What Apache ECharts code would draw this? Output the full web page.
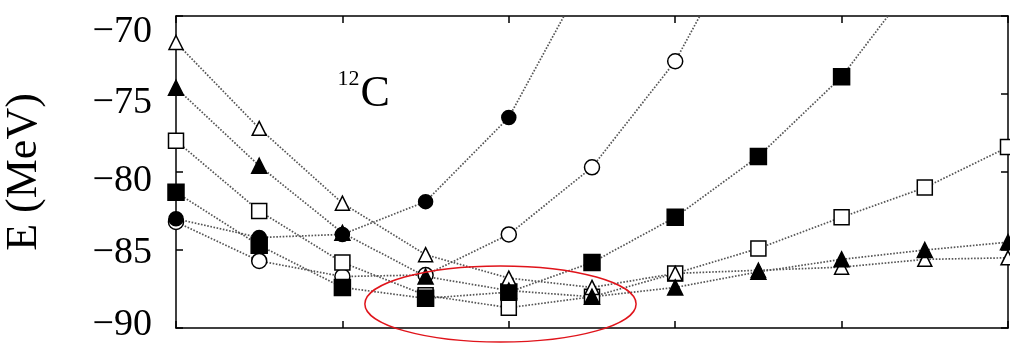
<!DOCTYPE html>
<html>
<head>
<meta charset="utf-8">
<script src="https://cdn.jsdelivr.net/npm/echarts@6/dist/echarts.min.js"></script>
<style>
  html, body { margin: 0; padding: 0; background: #fff; }
  #chart { width: 1010px; height: 344px; }
</style>
</head>
<body>
<div id="chart"></div>
<script>
// Deformation parameter grid (x) and total energies E (MeV) of 12C for six configurations
const xValues = [0, 0.5, 1, 1.5, 2, 2.5, 3, 3.5, 4, 4.5, 5];
const openTriangle   = [-71.7, -77.2, -82.0, -85.3, -86.8, -87.4, -86.5, -86.3, -86.1, -85.6, -85.5];
const filledTriangle = [-74.6, -79.6, -83.9, -86.7, -87.6, -88.0, -87.4, -86.4, -85.6, -85.0, -84.5];
const openSquare     = [-78.0, -82.5, -85.8, -87.9, -88.7, -88.0, -86.5, -84.9, -82.9, -81.0, -78.4];
const filledSquare   = [-81.3, -84.7, -87.4, -88.1, -87.7, -85.8, -82.9, -79.0, -73.9, -66.9];
const openCircle     = [-83.2, -85.7, -86.7, -86.6, -84.0, -79.7, -72.9, -63.1];
const filledCircle   = [-83.0, -84.2, -84.0, -81.9, -76.5, -66.7];
const yTicks = [-90, -85, -80, -75, -70];

// Highlight ellipse around the energy minima (data units)
const ring = { x: 1.95, y: -88.46, rx: 0.815, ry: 2.44 };

const serif = '"Liberation Serif", "DejaVu Serif", serif';
const chart = echarts.init(document.getElementById('chart'));

function pairs(vals) {
  return vals.map((v, i) => [xValues[i], v]);
}

function curve(name, vals, symbol, filled, size) {
  return {
    name: name,
    type: 'line',
    data: pairs(vals),
    symbol: symbol,
    symbolSize: size,
    showAllSymbol: true,
    clip: true,
    animation: false,
    lineStyle: { color: '#555', width: 1.7, type: [1.6, 1.6] },
    itemStyle: {
      color: filled ? '#000' : '#fff',
      borderColor: '#000',
      borderWidth: 1.5
    },
    emphasis: { disabled: true }
  };
}

// Tick labels sit slightly below their ticks toward the top of the axis
const labelShift = { '-70': 16, '-75': 9, '-80': 9, '-85': 3, '-90': -3 };
const labelRich = {};
Object.keys(labelShift).forEach((k, i) => {
  const s = labelShift[k];
  labelRich['t' + i] = {
    fontFamily: serif, fontSize: 38, color: '#000',
    padding: s >= 0 ? [2 * s, 0, 0, 0] : [0, 0, -2 * s, 0]
  };
});
const labelKeys = Object.keys(labelShift);
const tickLabel = v => {
  const idx = labelKeys.indexOf(String(v));
  const txt = String(v).replace('-', '\u2212');
  return idx >= 0 ? '{t' + idx + '|' + txt + '}' : txt;
};

const frameAxis = {
  axisLine: { show: true, onZero: false, lineStyle: { color: '#000', width: 1.5 } },
  axisTick: { show: true, inside: true, length: 7, lineStyle: { color: '#000', width: 1.5 } },
  axisLabel: { show: false },
  splitLine: { show: false }
};

chart.setOption({
  backgroundColor: '#fff',
  animation: false,
  grid: { left: 176, right: 2, top: 16, bottom: 16, containLabel: false, outerBoundsMode: 'none' },
  xAxis: [
    Object.assign({ type: 'value', min: 0, max: 5, interval: 1, position: 'bottom' }, frameAxis),
    Object.assign({ type: 'value', min: 0, max: 5, interval: 1, position: 'top' }, frameAxis)
  ],
  yAxis: [
    Object.assign({
      type: 'value', min: yTicks[0], max: yTicks[yTicks.length - 1], interval: 5, position: 'left',
      name: 'E (MeV)', nameLocation: 'middle', nameRotate: 90, nameGap: 130,
      nameTextStyle: { fontFamily: serif, fontSize: 44, color: '#000' }
    }, frameAxis, {
      axisLabel: { show: true, formatter: tickLabel, margin: 24, rich: labelRich,
                   fontFamily: serif, fontSize: 38, color: '#000' }
    }),
    Object.assign({ type: 'value', min: yTicks[0], max: yTicks[yTicks.length - 1], interval: 5, position: 'right' }, frameAxis)
  ],
  series: [
    curve('open circle', openCircle, 'circle', false, 15),
    curve('filled circle', filledCircle, 'circle', true, 14),
    curve('open square', openSquare, 'rect', false, 15),
    curve('filled square', filledSquare, 'rect', true, 16),
    curve('open triangle', openTriangle, 'triangle', false, 14),
    curve('filled triangle', filledTriangle, 'triangle', true, 15)
  ]
});

// Annotations anchored in data space
const c = chart.convertToPixel({ gridIndex: 0 }, [ring.x, ring.y]);
const e = chart.convertToPixel({ gridIndex: 0 }, [ring.x + ring.rx, ring.y + ring.ry]);
const lab = chart.convertToPixel({ gridIndex: 0 }, [0.97, -73.5]);

chart.setOption({
  graphic: [
    {
      type: 'ellipse', z: 100, silent: true,
      shape: { cx: c[0], cy: c[1], rx: e[0] - c[0], ry: c[1] - e[1] },
      style: { fill: 'none', stroke: '#e0141b', lineWidth: 1.5 }
    },
    {
      type: 'text', z: 100, silent: true,
      x: lab[0], y: lab[1] - 2,
      style: { text: '12', font: '22px ' + serif, fill: '#000', textVerticalAlign: 'top' }
    },
    {
      type: 'text', z: 100, silent: true,
      x: lab[0] + 23, y: lab[1] + 2,
      style: { text: 'C', font: '44px ' + serif, fill: '#000', textVerticalAlign: 'top' }
    }
  ]
});
</script>
</body>
</html>
